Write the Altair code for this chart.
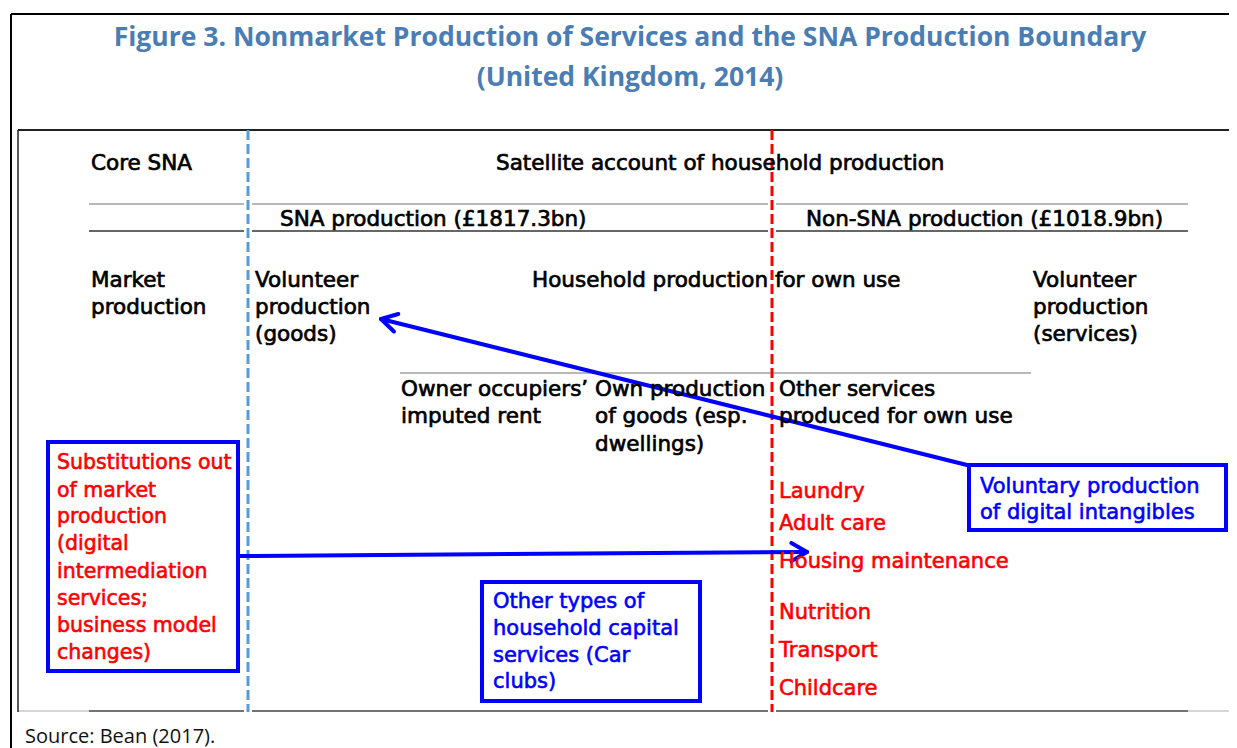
import math
import altair as alt
import pandas as pd

# ---------------- data (diagram content) ----------------
title_text = ["Figure 3. Nonmarket Production of Services and the SNA Production Boundary",
              "(United Kingdom, 2014)"]
title_x = [630, 630]
title_y = [46, 86]

black_text = ["Core SNA", "Satellite account of household production",
              "SNA production (£1817.3bn)", "Non-SNA production (£1018.9bn)",
              "Market", "production",
              "Volunteer", "production", "(goods)",
              "Household production for own use",
              "Volunteer", "production", "(services)",
              "Owner occupiers’", "imputed rent",
              "Own production", "of goods (esp.", "dwellings)",
              "Other services", "produced for own use"]
black_x = [91, 496, 280, 806, 91, 91, 255, 255, 255, 532, 1033, 1033, 1033,
           401, 401, 595, 595, 595, 779, 779]
black_y = [170, 170, 226, 226, 287, 314, 287, 314, 341, 287, 287, 314, 341,
           396, 423, 396, 423, 451, 396, 423]

red_items = ["Laundry", "Adult care", "Housing maintenance", "Nutrition", "Transport", "Childcare"]
red_items_x = [779] * 6
red_items_y = [498, 530, 568, 619, 657, 695]

red_box_text = ["Substitutions out", "of market", "production", "(digital",
                "intermediation", "services;", "business model", "changes)"]
red_box_x = [57] * 8
red_box_y = [469, 497, 523, 550, 578, 605, 632, 659]

blue_text = ["Other types of", "household capital", "services (Car", "clubs)",
             "Voluntary production", "of digital intangibles"]
blue_x = [493, 493, 493, 493, 980, 980]
blue_y = [608, 635, 662, 688, 493, 519]

source_text = ["Source: Bean (2017)."]
source_x = [25]
source_y = [743]

# boxes (stroke-centre edges)
box_x = [48, 482, 969]
box_x2 = [238, 700, 1226]
box_y = [442, 582, 465]
box_y2 = [671, 701, 530]

# solid frame / table lines
line_x = [11, 18, 89, 252, 776, 89, 252, 776, 400, 18, 89, 252, 776, 1188, 11, 18]
line_x2 = [1237, 1237, 244, 768, 1188, 244, 768, 1188, 1031, 89, 244, 768, 1188, 1237, 11, 18]
line_y = [14, 130, 204, 204, 204, 231, 231, 231, 373, 711, 711, 711, 711, 711, 14, 130]
line_y2 = [14, 130, 204, 204, 204, 231, 231, 231, 373, 711, 711, 711, 711, 711, 748, 712]
line_color = ["#000000", "#222222", "#a0a0a0", "#a0a0a0", "#a0a0a0", "#333333", "#333333", "#333333",
              "#a0a0a0", "#c8c8c8", "#444444", "#444444", "#444444", "#c8c8c8", "#000000", "#222222"]
line_width = [2, 2, 1.5, 1.5, 1.5, 1.5, 1.5, 1.5, 1.5, 1.5, 1.5, 1.5, 1.5, 1.5, 2, 1.5]

# dashed boundaries
dash_x = [248, 772]
dash_y = [130, 130]
dash_y2 = [712, 712]
dash_color = ["#5b9bd5", "#ff0000"]

# arrows (tail -> tip)
arrow_x0 = [967, 240]
arrow_y0 = [465, 556]
arrow_x1 = [381, 807]
arrow_y1 = [319, 552]

# ---------------- build tables ----------------
W, H = 1221, 732
X0, Y0 = 8, 8
xs = alt.Scale(domain=[X0, X0 + W], nice=False, zero=False)
ys = alt.Scale(domain=[Y0, Y0 + H], nice=False, zero=False, reverse=True)

def X(f):
    return alt.X(f, type="quantitative", scale=xs, axis=None)

def Y(f):
    return alt.Y(f, type="quantitative", scale=ys, axis=None)

lines_df = pd.DataFrame({"x": line_x, "x2": line_x2, "y": line_y, "y2": line_y2,
                         "c": line_color, "w": line_width})
dash_df = pd.DataFrame({"x": dash_x, "y": dash_y, "y2": dash_y2, "c": dash_color})
box_df = pd.DataFrame({"x": box_x, "x2": box_x2, "y": box_y, "y2": box_y2})

segs = []
L, ang = 18, math.radians(30)
for x0, y0, x1, y1 in zip(arrow_x0, arrow_y0, arrow_x1, arrow_y1):
    segs.append((x0, y0, x1, y1))
    dx, dy = x0 - x1, y0 - y1
    n = math.hypot(dx, dy)
    ux, uy = dx / n, dy / n
    for s in (1, -1):
        ca, sa = math.cos(s * ang), math.sin(s * ang)
        rx, ry = ux * ca - uy * sa, ux * sa + uy * ca
        segs.append((x1, y1, x1 + L * rx, y1 + L * ry))
arrow_df = pd.DataFrame(segs, columns=["x", "y", "x2", "y2"])

def tdf(t, x, y):
    return pd.DataFrame({"t": t, "x": x, "y": y})

FONT = "DejaVu Sans"

lines = alt.Chart(lines_df).mark_rule().encode(
    x=X("x"), x2="x2", y=Y("y"), y2="y2",
    color=alt.Color("c:N", scale=None), strokeWidth=alt.StrokeWidth("w:Q", scale=None))

dashes = alt.Chart(dash_df).mark_rule(strokeWidth=3, strokeDash=[10, 4]).encode(
    x=X("x"), y=Y("y"), y2="y2", color=alt.Color("c:N", scale=None))

boxes = alt.Chart(box_df).mark_rect(fillOpacity=0, stroke="#0000ff", strokeWidth=4).encode(
    x=X("x"), x2="x2", y=Y("y"), y2="y2")

arrows = alt.Chart(arrow_df).mark_rule(color="#0000ff", strokeWidth=4, strokeCap="round").encode(
    x=X("x"), x2="x2", y=Y("y"), y2="y2")

def text_layer(df, **kw):
    return alt.Chart(df).mark_text(baseline="alphabetic", **kw).encode(
        x=X("x"), y=Y("y"), text="t:N")

title = text_layer(tdf(title_text, title_x, title_y), align="center", font="Open Sans",
                   fontSize=26.5, fontWeight="bold", color="#4a7db3")
black = text_layer(tdf(black_text, black_x, black_y), align="left", font=FONT,
                   fontSize=21.5, color="#000000", stroke="#000000", strokeWidth=0.7)
red1 = text_layer(tdf(red_items, red_items_x, red_items_y), align="left", font=FONT,
                  fontSize=21, color="#ff0000", stroke="#ff0000", strokeWidth=0.6)
red2 = text_layer(tdf(red_box_text, red_box_x, red_box_y), align="left", font=FONT,
                  fontSize=20.5, color="#ff0000", stroke="#ff0000", strokeWidth=0.6)
blue = text_layer(tdf(blue_text, blue_x, blue_y), align="left", font=FONT,
                  fontSize=21, color="#0000ff", stroke="#0000ff", strokeWidth=0.6)
source = text_layer(tdf(source_text, source_x, source_y), align="left", font="Open Sans",
                    fontSize=20, color="#111111")

chart = alt.layer(lines, dashes, boxes, arrows, title, black, red1, red2, blue, source).properties(
    width=W, height=H, autosize="none",
    padding={"left": 0, "top": 0, "right": 0, "bottom": 8},
    background="white",
).configure_view(strokeWidth=0)

chart.save("out.html", embed_options={"renderer": "svg", "actions": False})
